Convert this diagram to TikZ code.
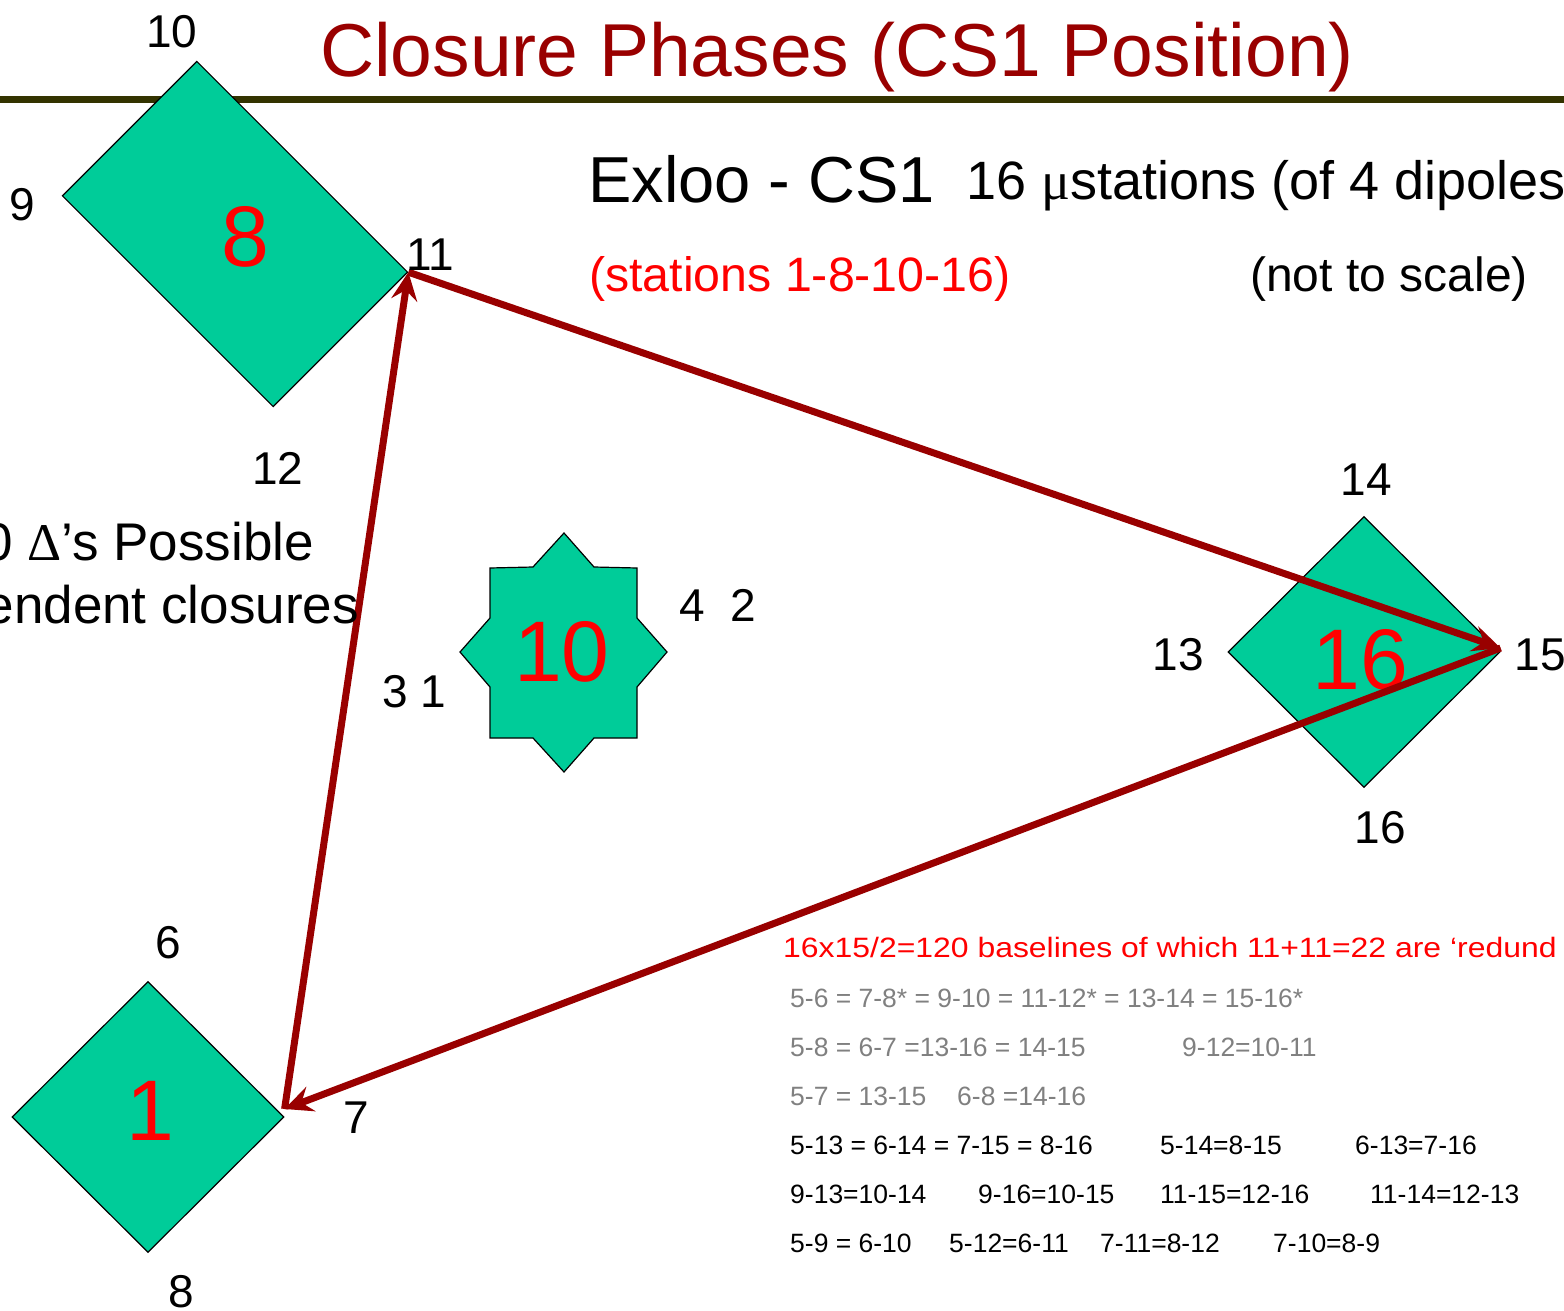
\documentclass[tikz,border=0pt]{standalone}
\usepackage{fontspec}
\setmainfont{Liberation Sans}
\newfontfamily\grkfont{Liberation Serif}
\newfontfamily\widefont[FakeStretch=1.14]{Liberation Sans}
\usetikzlibrary{shapes.geometric, arrows.meta, positioning}
\definecolor{stgreen}{RGB}{0, 204, 153}
\definecolor{darkred}{RGB}{153, 0, 0}
\definecolor{rulecol}{RGB}{51, 51, 0}
\definecolor{redgray}{RGB}{128, 128, 128}
\tikzstyle{station}  = [diamond, aspect=1, inner sep=0pt, minimum width=272pt, minimum height=271pt,
                        draw=black, line width=1.2pt, fill=stgreen]
\tikzstyle{station8} = [rectangle, rotate=-45, inner sep=0pt, minimum width=298pt, minimum height=190pt,
                        draw=black, line width=1.2pt, fill=stgreen]
\tikzstyle{stnum}    = [inner sep=0pt, text=red, font=\fontsize{86}{86}\selectfont]
\tikzstyle{dipole}   = [inner sep=0pt, font=\fontsize{46}{46}\selectfont]
\tikzstyle{eqline}   = [anchor=base west, inner sep=0pt, font=\fontsize{26.5}{26.5}\selectfont]
\tikzstyle{arrow}    = [-{Stealth[length=28pt, width=26pt, inset=10pt]}, line width=7pt, draw=darkred]

\begin{document}
\begin{tikzpicture}[x=1pt, y=-1pt]
  \useasboundingbox (0,0) rectangle (1564,1311);
  \clip (0,0) rectangle (1564,1311);

  % title bar
  \draw [rulecol, line width=7pt] (0,100) -- (1564,100);
  \node (title) [anchor=base, inner sep=0pt, text=darkred, font=\fontsize{75}{75}\selectfont]
        at (837,77) {Closure Phases (CS1 Position)};

  % stations
  \node (s8)  [station8] at (235,234) {};
  \node (n8)  [stnum] at (245,237) {8};
  \draw [draw=black, line width=1.2pt, fill=stgreen]
        (564,533) -- (594,567) -- (637,568) -- (637,618) -- (667,652) -- (637,687)
        -- (637,738) -- (594,738) -- (564,772) -- (533,738) -- (490,738) -- (490,687)
        -- (460,652) -- (490,618) -- (490,568) -- (533,567) -- cycle;
  \node (s10) [stnum] at (562,652) {10};
  \node (s16) [station] at (1364,652) {};
  \node (n16) [stnum] at (1360,660) {16};
  \node (s1)  [station] at (148,1117) {};
  \node (n1)  [stnum] at (150,1111) {1};

  % closure triangle
  \draw [arrow] (s8.north east) -- ([yshift=4pt]s16.east);
  \draw [arrow] ([yshift=4pt]s16.east) -- ([yshift=8pt]s1.east);
  \draw [arrow] ([yshift=8pt]s1.east) -- (s8.north east);

  % dipole numbers
  \node (d10) [dipole] at (172,32)   {10};
  \node (d9)  [dipole] at (22,205)   {9};
  \node (d11) [dipole] at (430,255)  {11};
  \node (d12) [dipole] at (278,468)  {12};
  \node (d42) [dipole] at (718,605)  {4\ \ 2};
  \node (d31) [dipole] at (414,692)  {3 1};
  \node (d14) [dipole] at (1366,480) {14};
  \node (d13) [dipole] at (1178,655) {13};
  \node (d15) [dipole] at (1540,655) {15};
  \node (d16) [dipole] at (1380,828) {16};
  \node (d6)  [dipole] at (168,943)  {6};
  \node (d7)  [dipole] at (356,1118) {7};
  \node (d8)  [dipole] at (181,1292) {8};

  % headings
  \node (site)  [anchor=base west, inner sep=0pt, font=\fontsize{65}{65}\selectfont]
        at (588,202) {Exloo - CS1};
  \node (micro) [anchor=base west, inner sep=0pt, font=\fontsize{54}{54}\selectfont]
        at (966,200) {16 {\grkfont μ}stations (of 4 dipoles};
  \node (sel)   [anchor=base west, inner sep=0pt, text=red, font=\fontsize{48.3}{48.3}\selectfont]
        at (589,291) {(stations 1-8-10-16)};
  \node (scale) [anchor=base, inner sep=0pt, font=\fontsize{48}{48}\selectfont]
        at (1389,291) {(not to scale)};
  \node (tri1)  [anchor=base east, inner sep=0pt, font=\fontsize{53}{53}\selectfont]
        at (314,560) {0 {\grkfont Δ}’s Possible};
  \node (tri2)  [anchor=base east, inner sep=0pt, font=\fontsize{53}{53}\selectfont]
        at (359,623) {endent closures};

  % redundant baselines
  \node (red0) [eqline, text=red, font=\widefont\fontsize{28}{28}\selectfont] at (783,957)
        {16x15/2=120 baselines of which 11+11=22 are ‘redund};
  \node (g1a) [eqline, text=redgray] at (790,1007) {5-6 = 7-8* = 9-10 = 11-12* = 13-14 = 15-16*};
  \node (g2a) [eqline, text=redgray] at (790,1056) {5-8 = 6-7 =13-16 = 14-15};
  \node (g2b) [eqline, text=redgray] at (1182,1056) {9-12=10-11};
  \node (g3a) [eqline, text=redgray] at (790,1105) {5-7 = 13-15};
  \node (g3b) [eqline, text=redgray] at (957,1105) {6-8 =14-16};
  \node (b4a) [eqline] at (790,1154)  {5-13 = 6-14 = 7-15 = 8-16};
  \node (b4b) [eqline] at (1160,1154) {5-14=8-15};
  \node (b4c) [eqline] at (1355,1154) {6-13=7-16};
  \node (b5a) [eqline] at (790,1203)  {9-13=10-14};
  \node (b5b) [eqline] at (978,1203)  {9-16=10-15};
  \node (b5c) [eqline] at (1160,1203) {11-15=12-16};
  \node (b5d) [eqline] at (1370,1203) {11-14=12-13};
  \node (b6a) [eqline] at (790,1252)  {5-9 = 6-10};
  \node (b6b) [eqline] at (949,1252)  {5-12=6-11};
  \node (b6c) [eqline] at (1100,1252) {7-11=8-12};
  \node (b6d) [eqline] at (1273,1252) {7-10=8-9};
\end{tikzpicture}
\end{document}
